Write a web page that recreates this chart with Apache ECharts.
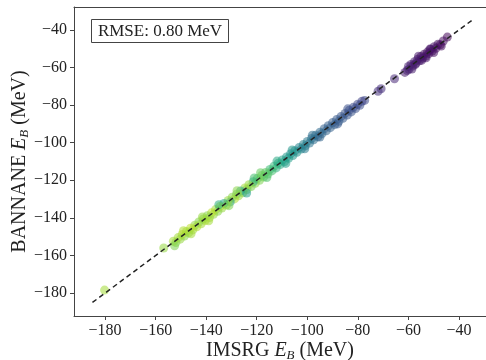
<!DOCTYPE html>
<html><head><meta charset="utf-8">
<script src="https://cdn.jsdelivr.net/npm/echarts@6/dist/echarts.min.js"></script>
<style>html,body{margin:0;padding:0;background:#fff}#c{width:486px;height:360px}</style>
</head><body><div id="c"></div>
<script>
// IMSRG binding energies (x), BANNANE binding energies (y), colour parameter (0..1 along viridis)
const imsrg = [
-44.6,-46.2,-47.4,-48.3,-49.1,-49.8,-50.6,-51.2,-51.9,-52.5,-53.1,-53.8,-54.4,-55.0,-55.7,-56.3,-57.0,-57.6,-58.3,-59.0,-59.8,-60.5,-61.4,-65.5,-70.8,-72.0,
-77.3,-78.4,-79.2,-80.1,-80.9,-81.8,-82.6,-83.4,-84.2,-85.1,-85.9,-86.7,-87.5,-88.4,-89.2,-90.0,-90.9,-91.7,-92.5,-93.3,-94.2,-95.0,-95.8,-96.7,-97.5,-98.3,-99.1,-100.0,
-100.8,-101.6,-102.4,-103.3,-104.1,-104.9,-105.7,-106.6,-107.4,-108.2,-109.0,-109.9,-110.7,-111.5,-112.3,-113.2,-114.0,-114.8,-115.6,-116.5,-117.3,-118.1,-118.9,-119.8,
-120.6,-121.4,-122.2,-123.1,-123.9,-124.7,-125.5,-126.4,-127.2,-128.0,-128.8,-129.7,-130.5,-131.3,-132.1,-133.0,-133.8,-134.6,-135.4,-136.3,-137.1,-137.9,-138.7,-139.6,
-140.4,-141.2,-142.0,-142.9,-143.7,-144.5,-145.3,-146.2,-147.0,-147.8,-148.6,-149.5,-150.3,-151.1,-152.0,-153.0,-156.8,-180.2,
-121.0,-124.0,-127.8,-131.0,-135.0,-139.0,-141.5,-146.0,-149.0,-152.5,-95.0,-98.0,-101.0,-106.0,-108.5,-112.0,-116.0,-118.5,-88.0,-84.0,-53.0,-56.0,-58.6,-50.0,
-47.0,-51.5,-54.8,-57.3,-60.0
];
const bannane = [
-43.8,-45.9,-47.9,-47.6,-49.8,-48.9,-51.2,-50.3,-52.6,-51.8,-53.9,-52.9,-55.1,-54.2,-56.4,-55.6,-57.8,-56.9,-59.2,-58.4,-60.9,-61.6,-62.6,-66.0,-71.3,-72.6,
-77.5,-78.0,-80.1,-79.6,-81.8,-81.2,-83.6,-82.7,-85.3,-84.4,-87.0,-86.1,-88.6,-87.7,-90.4,-89.3,-92.0,-91.0,-93.7,-92.6,-95.2,-94.4,-96.9,-96.0,-98.4,-97.7,-100.2,-99.3,
-101.7,-101.0,-103.4,-102.6,-105.1,-104.3,-106.8,-105.9,-108.3,-107.6,-110.1,-109.2,-111.6,-110.9,-113.4,-112.5,-115.0,-114.2,-116.7,-115.8,-118.3,-117.5,-120.0,-119.1,
-121.6,-120.8,-123.3,-122.4,-124.9,-124.1,-126.6,-125.7,-128.2,-127.4,-129.9,-129.0,-131.5,-130.7,-133.2,-132.3,-134.8,-134.0,-136.5,-135.6,-138.1,-137.3,-139.8,-138.9,
-141.4,-140.6,-143.1,-142.2,-144.7,-143.9,-146.4,-145.5,-148.0,-147.2,-149.7,-148.8,-151.3,-150.5,-153.1,-152.4,-156.0,-178.4,
-118.8,-126.8,-125.5,-133.5,-133.0,-141.5,-139.5,-148.5,-146.8,-154.8,-97.0,-96.0,-103.2,-103.9,-111.0,-109.8,-118.5,-116.0,-90.0,-82.0,-54.8,-54.0,-60.8,-52.0,
-48.6,-50.2,-56.2,-58.4,-59.4
];
const shade = [
0.02,0.03,0.02,0.04,0.03,0.05,0.04,0.06,0.03,0.05,0.07,0.04,0.06,0.05,0.08,0.06,0.07,0.09,0.08,0.07,0.09,0.10,0.08,0.11,0.13,0.14,
0.22,0.20,0.24,0.22,0.25,0.23,0.26,0.24,0.27,0.26,0.28,0.27,0.29,0.28,0.30,0.29,0.31,0.30,0.32,0.31,0.33,0.34,0.33,0.35,0.36,0.37,0.38,0.40,
0.42,0.44,0.47,0.45,0.50,0.48,0.52,0.50,0.55,0.53,0.58,0.56,0.60,0.62,0.64,0.66,0.70,0.68,0.72,0.74,0.76,0.78,0.80,0.76,
0.82,0.60,0.80,0.84,0.78,0.86,0.82,0.58,0.84,0.80,0.88,0.82,0.56,0.84,0.86,0.60,0.84,0.88,0.82,0.86,0.84,0.90,0.85,0.82,
0.88,0.84,0.86,0.82,0.88,0.84,0.86,0.90,0.84,0.86,0.82,0.88,0.84,0.86,0.82,0.86,0.84,0.86,
0.70,0.55,0.82,0.80,0.62,0.86,0.84,0.86,0.88,0.80,0.32,0.36,0.42,0.52,0.56,0.60,0.72,0.76,0.28,0.25,0.05,0.07,0.08,0.04,
0.03,0.05,0.06,0.08,0.09
];
const identityLine = [-185, -35];
const ticks = [-180, -160, -140, -120, -100, -80, -60, -40];
const rmseText = 'RMSE: 0.80 MeV';

const pts = imsrg.map((x, i) => [x, bannane[i], shade[i]]);
const viridis = ['#440154','#482878','#3e4989','#31688e','#26828e','#1f9e89','#35b779','#6ece58','#b5de2b','#fde725'];
const FONT = 'Liberation Serif';
const txt = '#222';
const fmt = v => String(v).replace('-', '\u2212');
const nameRich = {
  n: {fontFamily: FONT, fontSize: 20, color: txt},
  e: {fontFamily: FONT, fontSize: 20, color: txt, fontStyle: 'italic'},
  s: {fontFamily: FONT, fontSize: 13, color: txt, fontStyle: 'italic', padding: [9, 0, 0, 0], verticalAlign: 'bottom'}
};
const axisCommon = {
  type: 'value', splitLine: {show: false},
  axisLine: {show: true, lineStyle: {color: '#444', width: 1}},
  axisTick: {show: true, length: 4, inside: false, customValues: ticks, lineStyle: {color: '#444'}},
  axisLabel: {customValues: ticks, formatter: fmt, fontFamily: FONT, fontSize: 16, color: txt},
  nameTextStyle: {rich: nameRich},
  nameMoveOverlap: false
};
const chart = echarts.init(document.getElementById('c'), null, {renderer: 'canvas'});
chart.setOption({
  animation: false,
  backgroundColor: '#fff',
  grid: {left: 74, right: 0, top: 7, bottom: 44, containLabel: false, outerBoundsMode: 'none'},
  xAxis: [
    Object.assign({}, axisCommon, {min: -192.3, max: -29.3, position: 'bottom',
      name: '{n|IMSRG }{e|E}{s|B}{n| (MeV)}', nameLocation: 'middle', nameGap: 24,
      axisLabel: Object.assign({}, axisCommon.axisLabel, {margin: 7})}),
    {type: 'value', min: -192.3, max: -29.3, position: 'top', axisLine: {show: true, lineStyle: {color: '#444'}},
      axisTick: {show: false}, axisLabel: {show: false}, splitLine: {show: false}}
  ],
  yAxis: Object.assign({}, axisCommon, {min: -192.2, max: -27.8,
    name: '{n|BANNANE }{e|E}{s|B}{n| (MeV)}', nameLocation: 'middle', nameGap: 43, nameRotate: 90,
    axisLabel: Object.assign({}, axisCommon.axisLabel, {margin: 7})}),
  visualMap: {show: false, type: 'continuous', dimension: 2, min: 0, max: 1, seriesIndex: 0,
    inRange: {color: viridis}},
  series: [
    {type: 'scatter', data: pts, symbolSize: 9, itemStyle: {opacity: 0.55}, z: 2},
    {type: 'line', data: identityLine.map(v => [v, v]), symbol: 'none', z: 3,
      lineStyle: {color: '#222', width: 1.5, type: [5, 3.5]}}
  ],
  graphic: [{
    type: 'group', left: 91, top: 19, children: [
      {type: 'rect', shape: {x: 0, y: 0, width: 137, height: 23},
        style: {fill: '#fff', stroke: '#444', lineWidth: 1}},
      {type: 'text', x: 68.5, y: 12, style: {text: rmseText, font: '17px "Liberation Serif"', fill: txt,
        textAlign: 'center', textVerticalAlign: 'middle'}}
    ]
  }]
});
</script></body></html>
